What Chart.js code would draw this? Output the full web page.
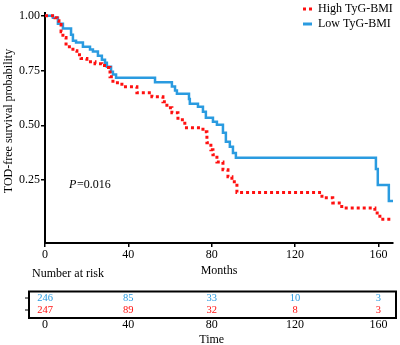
<!DOCTYPE html>
<html><head><meta charset="utf-8">
<script src="https://cdn.jsdelivr.net/npm/chart.js@4"></script>
<style>html,body{margin:0;padding:0;background:#fff;} #wrap{width:400px;height:345px;}</style>
</head><body><div id="wrap"><canvas id="c" width="400" height="345"></canvas></div>
<script>
// ---- data ----
const seriesNames = ['High TyG-BMI', 'Low TyG-BMI'];
const timesHigh = [0, 4.8, 5.8, 6.7, 7.7, 8.6, 10.1, 13.4, 15.3, 17.3, 20.1, 24.0, 27.3, 29.7, 31.2, 32.6, 36.9, 44.1, 51.3, 56.6, 58.5, 60.9, 63.8, 67.1, 75.8, 77.7, 79.6, 80.6, 82.5, 85.4, 87.8, 89.7, 92.1, 132.9, 138.1, 142.4, 158.3, 160.7, 167.0];
const survHigh  = [1.0, 0.99, 0.977, 0.959, 0.927, 0.900, 0.858, 0.840, 0.822, 0.804, 0.790, 0.781, 0.772, 0.763, 0.721, 0.694, 0.676, 0.648, 0.630, 0.607, 0.580, 0.557, 0.525, 0.489, 0.470, 0.420, 0.388, 0.365, 0.333, 0.297, 0.265, 0.242, 0.193, 0.169, 0.146, 0.123, 0.100, 0.071, 0.071];
const timesLow  = [0, 3.8, 6.2, 8.6, 12.5, 13.4, 14.9, 18.2, 21.6, 23.0, 25.4, 27.3, 28.8, 29.7, 31.7, 32.6, 34.1, 52.8, 60.9, 62.4, 63.3, 69.1, 69.5, 73.4, 75.8, 77.2, 80.6, 82.5, 85.4, 86.8, 88.7, 90.2, 91.6, 158.8, 159.7, 165.0, 167.0];
const survLow   = [1.0, 0.99, 0.963, 0.941, 0.913, 0.886, 0.877, 0.858, 0.845, 0.836, 0.817, 0.799, 0.785, 0.767, 0.744, 0.731, 0.717, 0.696, 0.677, 0.659, 0.644, 0.620, 0.598, 0.584, 0.562, 0.534, 0.516, 0.502, 0.466, 0.425, 0.402, 0.374, 0.352, 0.301, 0.228, 0.155, 0.155];
const xTicks = [0, 40, 80, 120, 160];
const yTicks = [0.25, 0.50, 0.75, 1.00];
const riskTimes = [0, 40, 80, 120, 160];
const riskLow  = [246, 85, 33, 10, 3];
const riskHigh = [247, 89, 32, 8, 3];
const pText = '=0.016';
const yTitle = 'TOD-free survival probability';
const xTitle = 'Months';
const riskTitle = 'Number at risk';
const riskXTitle = 'Time';

const FONT = "'Liberation Serif','Times New Roman',serif";
const BLUE = '#2A9BE0';
const RED = '#FF1010';

function pts(t, s){ return t.map((v,i)=>({x:v, y:s[i]})); }

const overlay = {
  id: 'overlay',
  afterDraw(chart){
    const ctx = chart.ctx, xs = chart.scales.x;
    ctx.save();
    ctx.fillStyle = '#000';
    // y title
    ctx.save();
    ctx.font = `12px ${FONT}`;
    ctx.translate(9, 121); ctx.rotate(-Math.PI/2);
    ctx.textAlign = 'center'; ctx.textBaseline = 'middle';
    ctx.fillText(yTitle, 0, 0);
    ctx.restore();
    // legend
    chart.data.datasets.forEach((ds, i) => {
      const y = 9 + i*15;
      ctx.save();
      ctx.strokeStyle = ds.borderColor; ctx.lineWidth = 3;
      ctx.setLineDash(ds.borderDash || []);
      ctx.beginPath(); ctx.moveTo(303, y); ctx.lineTo(312, y); ctx.stroke();
      ctx.restore();
      ctx.font = `12px ${FONT}`; ctx.textAlign = 'left'; ctx.textBaseline = 'middle'; ctx.fillStyle = '#000';
      ctx.fillText(ds.label, 318, y);
    });
    // P value
    ctx.textBaseline = 'middle'; ctx.textAlign = 'left';
    ctx.font = `italic 12px ${FONT}`;
    ctx.fillText('P', 69, 185);
    ctx.font = `12px ${FONT}`;
    ctx.fillText(pText, 77, 185);
    // risk table
    ctx.fillText(riskTitle, 32, 274);
    ctx.lineWidth = 2; ctx.strokeStyle = '#000';
    ctx.strokeRect(29, 291.5, 367, 26.5);
    ctx.lineWidth = 1;
    ctx.beginPath(); ctx.moveTo(25, 298); ctx.lineTo(29, 298); ctx.moveTo(25, 310); ctx.lineTo(29, 310); ctx.stroke();
    ctx.textAlign = 'center';
    ctx.font = `10.5px ${FONT}`;
    riskTimes.forEach((t, j) => {
      const x = xs.getPixelForValue(t);
      ctx.fillStyle = BLUE; ctx.fillText(String(riskLow[j]), x, 298);
      ctx.fillStyle = RED;  ctx.fillText(String(riskHigh[j]), x, 310);
    });
    ctx.fillStyle = '#000';
    ctx.font = `12px ${FONT}`;
    riskTimes.forEach(t => ctx.fillText(String(t), xs.getPixelForValue(t), 325));
    ctx.fillText(riskXTitle, xs.getPixelForValue(80), 340);
    ctx.restore();
  }
};

const axisCommon = {
  grid: {display: true, drawOnChartArea: false, drawTicks: true, tickLength: 4, color: '#000', lineWidth: 1.5},
  border: {display: true, color: '#000', width: 2},
};

new Chart(document.getElementById('c'), {
  type: 'line',
  data: {
    datasets: [
      {label: seriesNames[0], data: pts(timesHigh, survHigh), borderColor: RED, backgroundColor: RED,
       borderWidth: 3, borderDash: [3, 3], stepped: 'before', pointRadius: 0, fill: false},
      {label: seriesNames[1], data: pts(timesLow, survLow), borderColor: BLUE, backgroundColor: BLUE,
       borderWidth: 2.5, stepped: 'before', pointRadius: 0, fill: false}
    ]
  },
  options: {
    responsive: false, animation: false, devicePixelRatio: 1,
    layout: {padding: {top: 13, right: 7, bottom: 67, left: 0}},
    plugins: {legend: {display: false}, tooltip: {enabled: false}},
    scales: {
      x: Object.assign({}, axisCommon, {
        type: 'linear', min: 0, max: 167,
        afterFit(s){ s.height = 35; },
        afterBuildTicks(s){ s.ticks = xTicks.map(v => ({value: v})); },
        ticks: {color: '#000', font: {family: FONT, size: 12}, padding: 1, maxRotation: 0, autoSkip: false},
        title: {display: true, text: xTitle, color: '#000', font: {family: FONT, size: 12}, padding: 0}
      }),
      y: Object.assign({}, axisCommon, {
        type: 'linear', min: -0.037, max: 1.012,
        afterFit(s){ s.width = 45; },
        afterBuildTicks(s){ s.ticks = yTicks.map(v => ({value: v})); },
        ticks: {color: '#000', font: {family: FONT, size: 12}, padding: 1, callback: v => Number(v).toFixed(2)}
      })
    }
  },
  plugins: [overlay]
});
</script>
</body></html>
